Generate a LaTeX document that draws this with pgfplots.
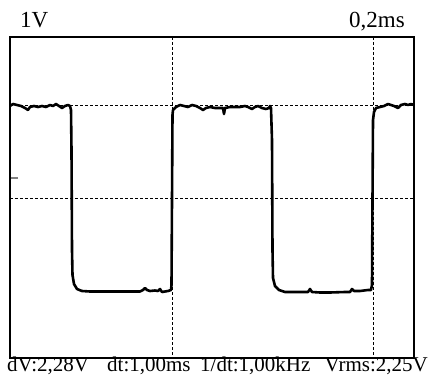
\documentclass[border=0pt]{standalone}
\usepackage{pgfplots}
\pgfplotsset{compat=1.18}
\usepackage{fontspec}
\setmainfont{Liberation Serif}
\begin{document}
\begin{tikzpicture}[x=1pt,y=1pt]
\useasboundingbox (0,0) rectangle (431,385);
\begin{axis}[
  at={(10pt,27pt)}, anchor=south west,
  scale only axis, width=404pt, height=321pt,
  xmin=10, xmax=414, ymin=37, ymax=358, y dir=reverse,
  axis line style={line width=1.8pt},
  xtick={172,373}, xticklabels={}, xtick style={draw=none}, xmajorgrids,
  ytick={178}, yticklabels={}, ytick pos=left, tick align=inside,
  ytick style={line width=1.4pt}, major tick length=8pt,
  extra y ticks={105,198}, extra y tick labels={},
  extra y tick style={grid=major, major tick length=0pt},
  grid style={black, line width=0.85pt, dash pattern=on 3pt off 2pt},
  clip=false,
]
\addplot[black, line width=2.6pt, line join=round] coordinates {
(10,106)(13,104)(17,105)(21,106)(25,108)(28,110)(30,107)(34,106)(38,107)(42,106)(46,107)(50,105)(53,106)(56,104)(59,106)(62,108)(65,106)(68,105)(70,106)(71,110)(71.5,150)(72,250)(72.5,275)(74,284)(77,289)(82,291)(90,291.5)(110,291.5)(130,291.5)(140,291.5)(143,290)(145,288)(147,290)(150,291)(155,290.5)(158,291)(160,289)(162,292)(168,291)(171,290)(171.5,285)(172,200)(172.5,115)(173,110)(176,107)(180,105)(184,106)(188,107)(192,105)(196,106)(200,108)(203,110)(206,108)(210,107)(215,108)(220,108)(223,108)(224,114)(225,108)(230,107)(240,107)(245,106)(248,107)(252,109)(255,107)(258,106)(262,108)(266,109)(269,108)(270,106)(271,108)(272,140)(272.5,250)(273,278)(275,286)(279,290)(285,292)(300,292)(308,292)(310,289)(312,292)(320,292.5)(330,292.5)(345,292)(350,292)(352,289)(354,291)(360,291)(368,290)(371,290)(372,285)(372.5,200)(373,120)(374,112)(376,108)(380,107)(384,106)(388,104)(391,105)(394,106)(398,108)(401,105)(405,104)(408,105)(411,104)(414,105)
};
\end{axis}
\begin{scope}[every node/.style={inner sep=0pt}]
\node[anchor=base west, font=\fontsize{23}{26}\selectfont] at (20,357) {1V};
\node[anchor=base east, font=\fontsize{23}{26}\selectfont] at (405,357) {0,2ms};
\node[anchor=base west, font=\fontsize{21}{24}\selectfont] at (7,13) {dV:2,28V};
\node[anchor=base west, font=\fontsize{21}{24}\selectfont] at (107,13) {dt:1,00ms};
\node[anchor=base west, font=\fontsize{21}{24}\selectfont] at (200,13) {1/dt:1,00kHz};
\node[anchor=base east, font=\fontsize{21}{24}\selectfont] at (428,13) {Vrms:2,25V};
\end{scope}
\end{tikzpicture}
\end{document}
